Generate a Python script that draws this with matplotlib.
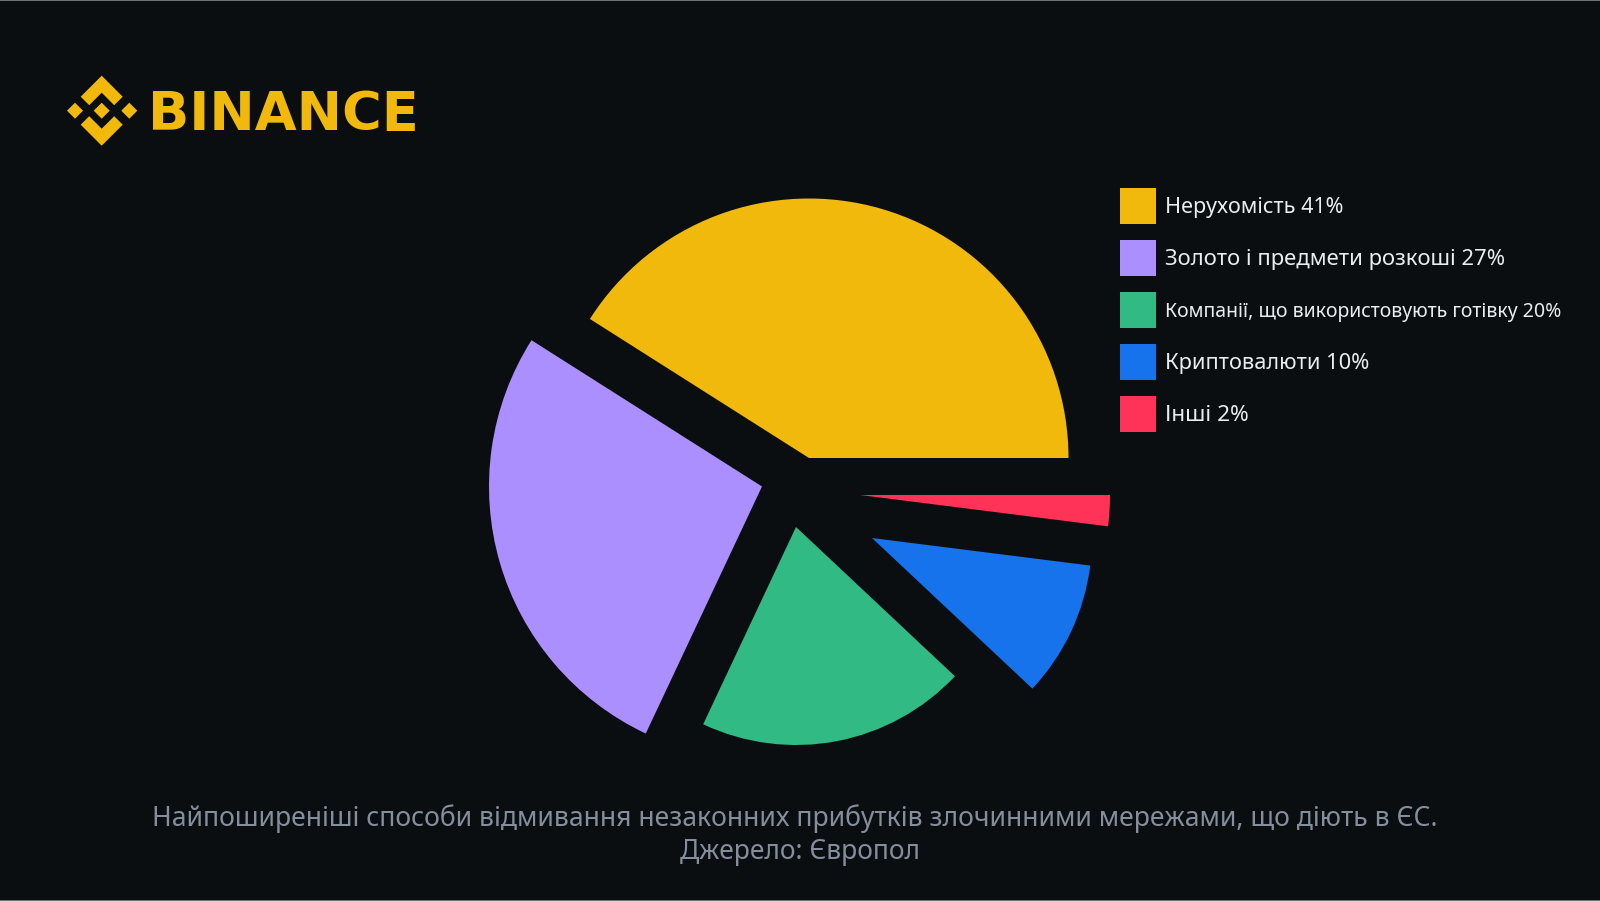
import matplotlib
matplotlib.use("Agg")
import matplotlib.pyplot as plt
from matplotlib.patches import Polygon, Rectangle

# --- data ---
labels = ["Нерухомість 41%", "Золото і предмети розкоші 27%", "Компанії, що використовують готівку 20%",
          "Криптовалюти 10%", "Інші 2%"]
shares = [41, 27, 20, 10, 2]
colors = ["#F0B90B", "#AB8FFF", "#31BA83", "#1773EB", "#FF3358"]

# each slice is pulled out by its own amount and has its own radius (pixels)
centers = [(809, 458), (762, 486.5), (796, 527), (872, 538), (860, 495)]
radii = [259.5, 273, 218, 220, 250]
label_sizes = [15.5, 15.9, 14.05, 15.7, 16.2]

caption = ["Найпоширеніші способи відмивання незаконних прибутків злочинними мережами, що діють в ЄС.",
           "Джерело: Європол"]

BG = "#0B0E11"
W, H = 1600, 901

plt.rcParams["font.family"] = ["Noto Sans", "DejaVu Sans"]
fig = plt.figure(figsize=(W / 100, H / 100), dpi=100, facecolor=BG)
ax = fig.add_axes([0, 0, 1, 1])

wedges, _ = ax.pie(shares, colors=colors, startangle=0, counterclock=True)
for w, (cx, cy), r in zip(wedges, centers, radii):
    w.set_center((cx, H - cy))
    w.set_radius(r)
    w.set_linewidth(0)

ax.set_xlim(0, W)
ax.set_ylim(0, H)
ax.set_aspect("equal")
ax.axis("on")
ax.set_xticks([])
ax.set_yticks([])
for s in ax.spines.values():
    s.set_visible(False)
ax.set_facecolor(BG)

# thin lighter rim top and bottom
ax.add_patch(Rectangle((0, H - 1), W, 1, color="#6E7276", lw=0))
ax.add_patch(Rectangle((0, 0), W, 1, color="#6E7276", lw=0))

# --- logo ---
GOLD = "#F0B90B"
lx, ly = 101.7, 110.7
def px(points):
    return [(lx + x, H - (ly + y)) for x, y in points]
chevron = [(0, -35), (21, -14), (12.5, -5.5), (0, -18), (-12.5, -5.5), (-21, -14)]
ax.add_patch(Polygon(px(chevron), color=GOLD, lw=0))
ax.add_patch(Polygon(px([(x, -y) for x, y in chevron]), color=GOLD, lw=0))
for dx in (-26.7, 0, 27.6):
    d = 8.0
    ax.add_patch(Polygon(px([(dx, -d), (dx + d, 0), (dx, d), (dx - d, 0)]), color=GOLD, lw=0))
ax.text(148, H - 130, "BINANCE", color=GOLD, fontsize=39, fontweight="bold", family="DejaVu Sans",
        ha="left", va="baseline")

# --- legend ---
for i, (lab, col, size) in enumerate(zip(labels, colors, label_sizes)):
    top = 188 + 52 * i
    ax.add_patch(Rectangle((1120, H - top - 36), 36, 36, color=col, lw=0))
    ax.text(1165, H - top - 24.7, lab, color="#EAECEF", fontsize=size, ha="left", va="baseline")

# --- caption ---
ax.text(795, H - 815, caption[0], color="#848E9C", fontsize=19.1, ha="center", va="center_baseline")
ax.text(800, H - 849, caption[1], color="#848E9C", fontsize=19, ha="center", va="center_baseline")

fig.savefig("out.png", dpi=100, facecolor=BG)
